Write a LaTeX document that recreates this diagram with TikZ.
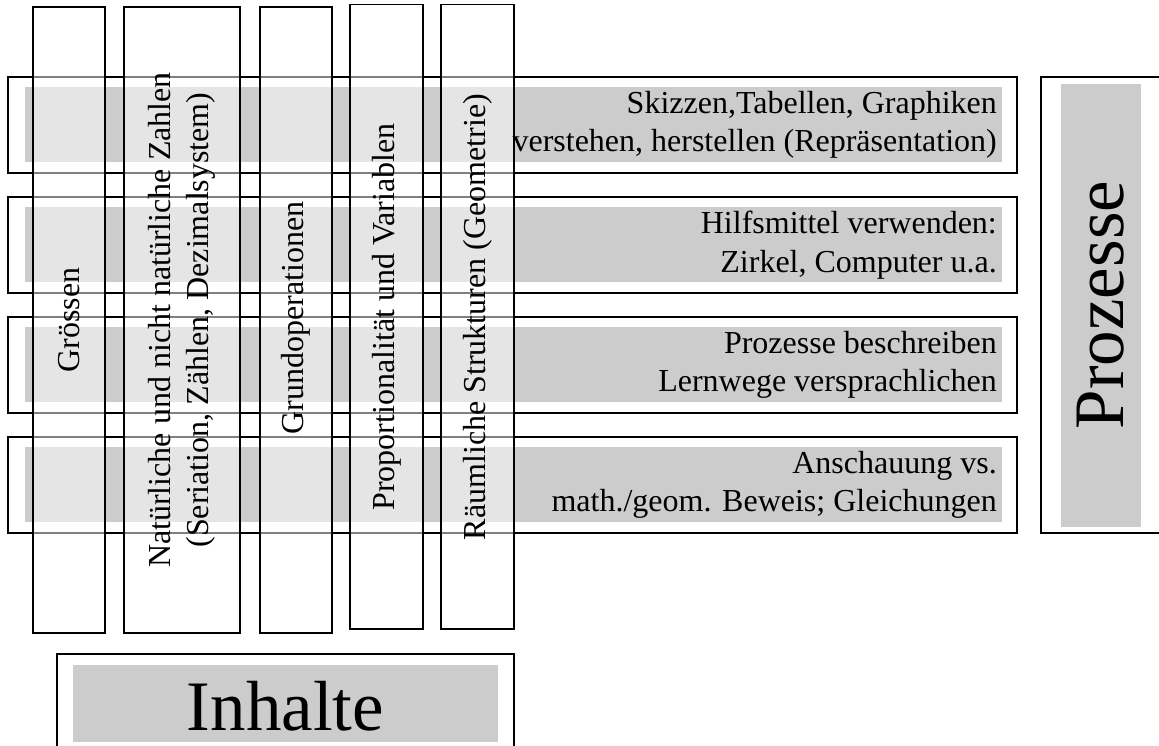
\documentclass[tikz,border=0pt]{standalone}
\usepackage{fontspec}
\setmainfont{Liberation Serif}
\usepackage{tikz}
\usetikzlibrary{positioning}
\definecolor{bargray}{HTML}{CCCCCC}
\tikzset{frame/.style = {draw, line width=1.8pt},
         bar/.style = {fill=bargray},
         column/.style = {draw, line width=1.8pt, fill=white, fill opacity=0.5},
         small/.style = {font=\fontsize{32}{38.5}\selectfont, inner sep=0pt},
         big/.style = {font=\fontsize{71}{80}\selectfont, inner sep=0pt}}

\begin{document}
\begin{tikzpicture}[x=1pt, y=-1pt]
    \useasboundingbox (0, 0) rectangle (1159, 746);
    \clip (0, 0) rectangle (1159, 746);
    % Prozesse rows
    \foreach \y in {77, 197, 317, 437} {
      \draw [frame] (8, \y) rectangle (1017, \y+96);
      \fill [bar] (25, \y+10) rectangle (1002, \y+85);
    }
    % Inhalte columns
    \draw [column] (33, 7) rectangle (105, 633);
    \draw [column] (124, 7) rectangle (240, 633);
    \draw [column] (260, 7) rectangle (332, 633);
    \draw [column] (350, 4.5) rectangle (423, 629);
    \draw [column] (441, 4.5) rectangle (514, 629);
    \node [small, rotate=90] (groessen) at (69, 320) {Grössen};
    \node [small, rotate=90, align=center] (zahlen) at (182, 320)
      {Natürliche und nicht natürliche Zahlen\\(Seriation, Zählen, Dezimalsystem)};
    \node [small, rotate=90] (grundop) at (296, 318) {Grundoperationen};
    \node [small, rotate=90] (propvar) at (386.5, 317) {Proportionalität und Variablen};
    \node [small, rotate=90] (raum) at (477.5, 317) {Räumliche Strukturen (Geometrie)};
    % process texts
    \node [small, align=right, anchor=east] (skizzen) at (997, 125)
      {Skizzen,Tabellen, Graphiken\\verstehen, herstellen (Repräsentation)};
    \node [small, align=right, anchor=east] (hilfsmittel) at (997, 245)
      {Hilfsmittel verwenden:\\Zirkel, Computer u.a.};
    \node [small, align=right, anchor=east] (beschreiben) at (997, 365)
      {Prozesse beschreiben\\Lernwege versprachlichen};
    \node [small, align=right, anchor=east] (anschauung) at (997, 485)
      {Anschauung vs.\\math./geom. Beweis; Gleichungen};
    % titles
    \draw [frame] (1041, 77) rectangle (1175, 533);
    \fill [bar] (1061, 84) rectangle (1141, 527);
    \node [big, rotate=90] (prozesse) at (1101, 305) {Prozesse};
    \draw [frame] (57, 654) rectangle (514, 770);
    \fill [bar] (73, 665) rectangle (498, 742);
    \node [big, anchor=base] (inhalte) at (285.5, 730) {Inhalte};
\end{tikzpicture}
\end{document}
